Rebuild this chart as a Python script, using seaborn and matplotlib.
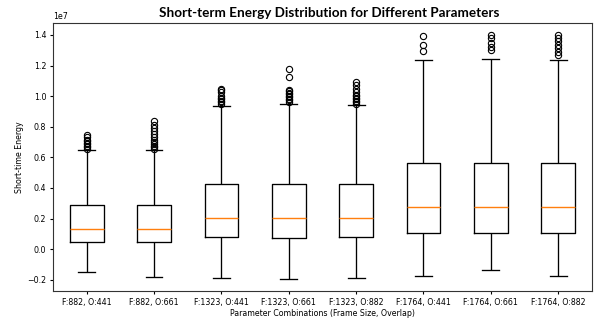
import matplotlib
matplotlib.use("Agg")
import matplotlib.pyplot as plt
import seaborn as sns
import pandas as pd

# Parameter combinations (x categories)
labels = ["F:882, O:441", "F:882, O:661", "F:1323, O:441", "F:1323, O:661",
          "F:1323, O:882", "F:1764, O:441", "F:1764, O:661", "F:1764, O:882"]

# Box statistics (units of 1e7)
whisker_low = [-0.148, -0.179, -0.188, -0.192, -0.190, -0.175, -0.135, -0.175]
q1 = [0.046, 0.046, 0.079, 0.074, 0.079, 0.109, 0.109, 0.109]
median = [0.135, 0.135, 0.205, 0.205, 0.205, 0.273, 0.273, 0.273]
q3 = [0.286, 0.286, 0.423, 0.428, 0.425, 0.565, 0.565, 0.565]
whisker_high = [0.645, 0.645, 0.938, 0.947, 0.940, 1.237, 1.241, 1.237]

# Outliers (units of 1e7)
outliers = [
    [0.655, 0.665, 0.675, 0.685, 0.695, 0.705, 0.715, 0.730, 0.745],
    [0.655, 0.665, 0.675, 0.690, 0.700, 0.715, 0.730, 0.750, 0.770, 0.790, 0.810, 0.835],
    [0.950, 0.960, 0.970, 0.980, 0.990, 1.003, 1.025, 1.040, 1.047],
    [0.962, 0.972, 0.982, 0.992, 1.002, 1.012, 1.022, 1.032, 1.040, 1.128, 1.176],
    [0.950, 0.960, 0.970, 0.980, 0.990, 1.000, 1.010, 1.025, 1.047, 1.070, 1.095],
    [1.298, 1.335, 1.396],
    [1.302, 1.324, 1.346, 1.379, 1.400],
    [1.270, 1.291, 1.313, 1.335, 1.357, 1.379, 1.400],
]

SCALE = 1e7

# Build a sample per category whose quartiles / whiskers reproduce the read statistics
rows = []
for i, lab in enumerate(labels):
    k = len(outliers[i])
    block = 50
    vals = ([whisker_low[i]] * (block + k) + [q1[i]] * block + [median[i]] * block
            + [q3[i]] * block + [whisker_high[i]] * block + list(outliers[i]))
    for v in vals:
        rows.append({"combo": lab, "energy": v * SCALE})
df = pd.DataFrame(rows)

FS = 5.7
plt.rcParams.update({
    "font.family": ["DejaVu Sans"],
    "font.size": FS,
    "axes.linewidth": 0.8,
    "xtick.major.width": 0.8,
    "ytick.major.width": 0.8,
    "xtick.major.size": 2.4,
    "ytick.major.size": 2.4,
    "xtick.major.pad": 2.5,
    "ytick.major.pad": 2.5,
})

fig = plt.figure(figsize=(5.96, 3.21), dpi=100)
ax = fig.add_axes([0.089, 0.0935, 0.904, 0.8345])

sns.boxplot(
    data=df, x="combo", y="energy", order=labels, ax=ax,
    fill=False, color="black", linecolor="black", linewidth=0.95, width=0.5,
    whis=1.5,
    medianprops={"color": "#ff7f0e", "linewidth": 1.0},
    flierprops={"marker": "o", "markerfacecolor": "none", "markeredgecolor": "black",
                "markersize": 4.5, "markeredgewidth": 0.8},
)

ax.set_xlim(-0.5, len(labels) - 0.5)
ax.set_ylim(-0.273 * SCALE, 1.477 * SCALE)
ax.set_xlabel("Parameter Combinations (Frame Size, Overlap)", fontsize=FS, labelpad=1.5)
ax.set_ylabel("Short-time Energy", fontsize=FS, labelpad=2.5)
ax.tick_params(labelsize=FS)
ax.yaxis.get_offset_text().set_fontsize(FS)
for s in ax.spines.values():
    s.set_visible(True)
    s.set_color("#333333")

fig.suptitle("Short-term Energy Distribution for Different Parameters",
             fontsize=9.7, fontweight="bold", family=["Lato", "DejaVu Sans"],
             x=0.552, y=0.978)

fig.savefig("out.png", dpi=100)
